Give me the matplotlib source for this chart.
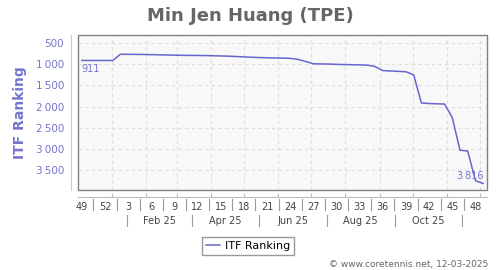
"""Weekly ITF ranking history for one player, drawn to out.png."""

from datetime import date

import matplotlib.pyplot as plt
import matplotlib.transforms as mtransforms

plt.switch_backend("Agg")

# weekly ranking, week 49 of 2024 through week 49 of 2025
rankings = [
    911, 911, 911, 911, 911, 765, 766, 768, 770, 774,
    778, 782, 786, 790, 792, 793, 795, 800, 805, 810,
    818, 828, 835, 842, 848, 852, 856, 862, 885, 935,
    990, 993, 996, 1003, 1008, 1012, 1016, 1022, 1055, 1150,
    1160, 1168, 1178, 1250, 1915, 1928, 1935, 1940, 2260, 3030,
    3050, 3750, 3816,
]
week_labels = ["49", "52", "3", "6", "9", "12", "15", "18", "21",
               "24", "27", "30", "33", "36", "39", "42", "45", "48"]
month_labels = ["Feb 25", "Apr 25", "Jun 25", "Aug 25", "Oct 25"]
y_ticks = [500, 1000, 1500, 2000, 2500, 3000, 3500]

LINE = "#6666cc"
LAV = "#7575cc"
ORIGIN = date(2024, 12, 5)


def week_pos(d):
    return (d - ORIGIN).days / 7


fig = plt.figure(figsize=(5, 2.7), dpi=100)
ax = fig.add_axes([78 / 500, 1 - 190 / 270, 409 / 500, 155 / 270])
ax.set_facecolor("#f8f8f8")

x = list(range(len(rankings)))
ax.plot(x, rankings, color=LINE, lw=1.1, label="ITF Ranking", zorder=3)
ax.set_xlim(-0.5, 52.5)
ax.set_ylim(3970, 310)

# frame drawn as a patch, real spines pushed outward
ax.add_patch(plt.Rectangle((0, 0), 1, 1, transform=ax.transAxes, fill=False,
                           edgecolor="#808080", lw=1.0, zorder=4, clip_on=False))
ax.spines["top"].set_visible(False)
ax.spines["right"].set_visible(False)
ax.spines["left"].set_position(("outward", 5))
ax.spines["left"].set_color("#c8c8ee")
ax.spines["bottom"].set_position(("outward", 5))
ax.spines["bottom"].set_color("#bbbbbb")

# y axis
ax.set_yticks(y_ticks, [f"{v:,}".replace(",", "\u2009") for v in y_ticks])
ax.tick_params(axis="y", length=0, pad=5, labelsize=7.5, labelcolor=LAV)
ax.set_ylabel("ITF Ranking", color=LAV, fontsize=10, fontweight="bold", labelpad=6)

# month gridlines / ticks
months = [week_pos(date(2025, m, 1)) for m in range(1, 13)]
ax.xaxis.remove_overlapping_locs = False
ax.set_xticks(months, [""] * len(months))
ax.tick_params(axis="x", which="major", direction="in", length=3, color="#bbbbbb")
ax.grid(True, color="#dddddd", lw=0.8, ls=(0, (3, 3)))
ax.set_axisbelow(True)

# week labels
ax.set_xticks([3 * i for i in range(len(week_labels))], week_labels, minor=True)
ax.tick_params(axis="x", which="minor", length=0, pad=3.5, labelsize=7, labelcolor="#444444")

trans = mtransforms.blended_transform_factory(ax.transData, ax.transAxes)
for i in range(len(week_labels) - 1):
    ax.plot([3 * i + 1.5] * 2, [-0.058, -0.13], color="#999999", lw=0.8,
            transform=trans, clip_on=False)

# month labels in second tier
seps = [week_pos(date(2025, m, 15)) for m in (1, 3, 5, 7, 9, 11)]
for s in seps:
    ax.plot([s, s], [-0.16, -0.235], color="#999999", lw=0.8,
            transform=trans, clip_on=False)
for lab, a, b in zip(month_labels, seps[:-1], seps[1:]):
    ax.text((a + b) / 2, -0.2, lab, transform=trans, ha="center", va="center",
            fontsize=7, color="#444444")

# first / last value annotations
ax.annotate(f"{rankings[0]:,}".replace(",", "\u2009"), (x[0], rankings[0]),
            xytext=(-0.5, -6.5), textcoords="offset points", ha="left", va="center",
            fontsize=7, color=LAV)
ax.annotate(f"{rankings[-1]:,}".replace(",", "\u2009"), (x[-1], rankings[-1]),
            xytext=(0, 5.5), textcoords="offset points", ha="right", va="center",
            fontsize=7, color=LAV)

fig.text(0.5, 1 - 16 / 270, "Min Jen Huang (TPE)", ha="center", va="center",
         fontsize=13, fontweight="bold", color="#666666")
fig.legend(loc="center", bbox_to_anchor=(248 / 500, 1 - 246 / 270), fontsize=8,
           fancybox=False, edgecolor="#999999", handlelength=1.2, handletextpad=0.45,
           borderpad=0.4, borderaxespad=0, framealpha=1)
fig.text(488 / 500, 1 - 264 / 270, "\u00a9 www.coretennis.net, 12-03-2025",
         ha="right", va="center", fontsize=6.5, color="#666666")

fig.savefig("out.png", dpi=100)
plt.close(fig)
